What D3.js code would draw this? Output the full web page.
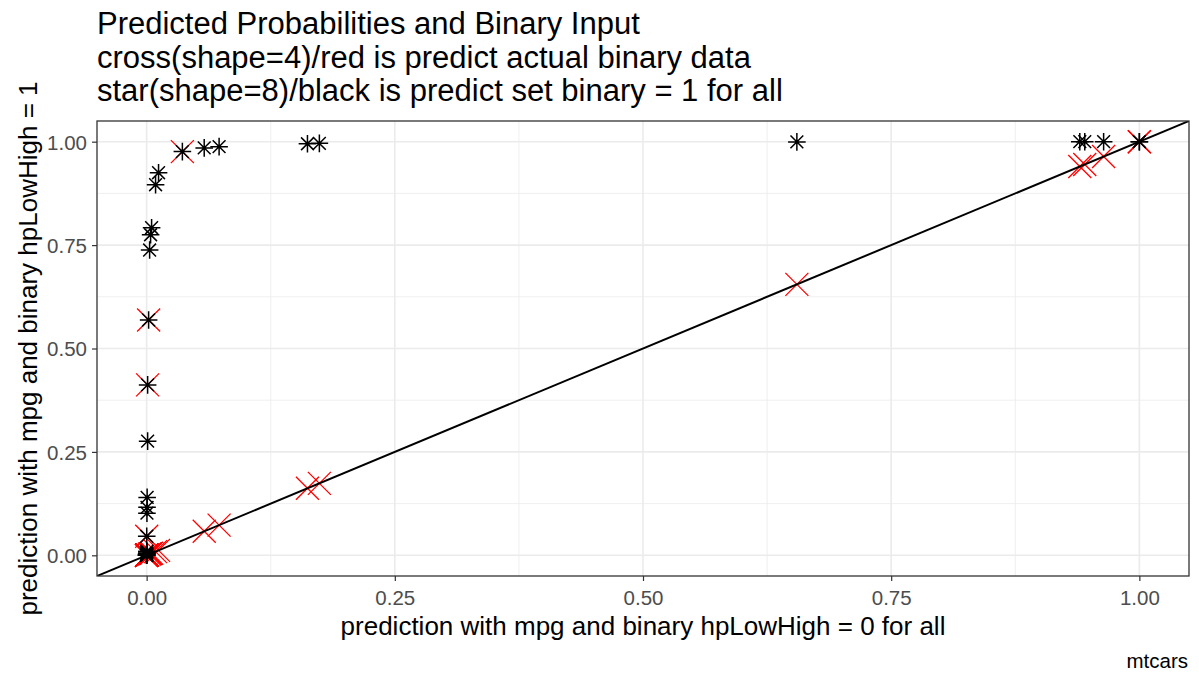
<!DOCTYPE html>
<html><head><meta charset="utf-8">
<script src="https://cdn.jsdelivr.net/npm/d3@7"></script>
<style>body{margin:0;background:#fff;} text{font-family:"Liberation Sans",Arial,Helvetica,sans-serif;}</style>
</head><body>
<svg id="chart" width="1199" height="673"></svg>
<script>
// prediction with hpLowHigh = 0 for all (x)
const pred0 = [0.036,0.058,0.073,0.012,0.009,0.005,0.004,0.003,0.002,0.001,0.001,0.0005,0.0004,0.0003,0.0001,
  0.162,0.174,0.655,0.940,0.945,0.964,1.0,1.0,
  0.0,0.0,0.0001,0.0002,0.0,0.0003,0.0001,0.0,0.0];
// prediction with hpLowHigh = 1 for all (black stars)
const pred1 = [0.976,0.985,0.988,0.925,0.896,0.792,0.775,0.738,0.569,0.412,0.276,0.140,0.116,0.102,0.046,
  0.995,0.996,0.9995,1.0,1.0,1.0,1.0,1.0,
  0.002,0.001,0.005,0.008,0.0,0.01,0.003,0.0,0.0];
// prediction with actual binary data (red crosses)
const predActual = [0.976,0.058,0.073,0.012,0.009,0.005,0.004,0.003,0.569,0.412,0.001,0.0005,0.0004,0.0003,0.046,
  0.162,0.174,0.655,0.940,0.945,0.964,1.0,1.0,
  0.0,0.0,0.0001,0.0002,0.0,0.0003,0.0001,0.0,0.0];
const ticks = [0, 0.25, 0.5, 0.75, 1.0];
const minorTicks = [0.125, 0.375, 0.625, 0.875];
const titleLines = ["Predicted Probabilities and Binary Input",
  "cross(shape=4)/red is predict actual binary data",
  "star(shape=8)/black is predict set binary = 1 for all"];
const xTitle = "prediction with mpg and binary hpLowHigh = 0 for all";
const yTitle = "prediction with mpg and binary hpLowHigh = 1";
const caption = "mtcars";

const svg = d3.select("#chart");
const L = 97, R = 1189, T = 121, B = 576;
const x = d3.scaleLinear().domain([-0.05, 1.05]).range([L, R]);
const y = d3.scaleLinear().domain([-0.05, 1.05]).range([B, T]);

svg.append("defs").append("clipPath").attr("id","pc")
  .append("rect").attr("x",L).attr("y",T).attr("width",R-L).attr("height",B-T);

const g = svg.append("g");
minorTicks.forEach(t=>{
  g.append("line").attr("x1",x(t)).attr("x2",x(t)).attr("y1",T).attr("y2",B).attr("stroke","#EBEBEB").attr("stroke-width",0.8);
  g.append("line").attr("y1",y(t)).attr("y2",y(t)).attr("x1",L).attr("x2",R).attr("stroke","#EBEBEB").attr("stroke-width",0.8);
});
ticks.forEach(t=>{
  g.append("line").attr("x1",x(t)).attr("x2",x(t)).attr("y1",T).attr("y2",B).attr("stroke","#EBEBEB").attr("stroke-width",1.6);
  g.append("line").attr("y1",y(t)).attr("y2",y(t)).attr("x1",L).attr("x2",R).attr("stroke","#EBEBEB").attr("stroke-width",1.6);
});

const data = pred0.map((d,i)=>({x:d, y1:pred1[i], ya:predActual[i]}));
const pts = svg.append("g").attr("clip-path","url(#pc)");
const cs = 11.5;
pts.selectAll("path.cross").data(data).enter().append("path")
  .attr("d", d=>{const cx=x(d.x), cy=y(d.ya);
    return `M${cx-cs},${cy-cs}L${cx+cs},${cy+cs}M${cx-cs},${cy+cs}L${cx+cs},${cy-cs}`;})
  .attr("stroke","#FF0000").attr("stroke-width",1.3).attr("fill","none");
const sp = 8.8, sx = 6.4;
pts.selectAll("path.star").data(data).enter().append("path")
  .attr("d", d=>{const cx=x(d.x), cy=y(d.y1);
    return `M${cx-sp},${cy}L${cx+sp},${cy}M${cx},${cy-sp}L${cx},${cy+sp}M${cx-sx},${cy-sx}L${cx+sx},${cy+sx}M${cx-sx},${cy+sx}L${cx+sx},${cy-sx}`;})
  .attr("stroke","#000").attr("stroke-width",1.5).attr("fill","none");
pts.append("line").attr("x1",x(-0.05)).attr("y1",y(-0.05)).attr("x2",x(1.05)).attr("y2",y(1.05))
  .attr("stroke","#000").attr("stroke-width",2);

svg.append("rect").attr("x",L).attr("y",T).attr("width",R-L).attr("height",B-T)
  .attr("fill","none").attr("stroke","#333333").attr("stroke-width",1.3);

const fmt = d3.format(".2f");
const xAxis = svg.append("g").attr("transform",`translate(0,${B})`)
  .call(d3.axisBottom(x).tickValues(ticks).tickFormat(fmt).tickSize(5).tickPadding(4));
const yAxis = svg.append("g").attr("transform",`translate(${L},0)`)
  .call(d3.axisLeft(y).tickValues(ticks).tickFormat(fmt).tickSize(5).tickPadding(5));
[xAxis,yAxis].forEach(a=>{
  a.select(".domain").remove();
  a.selectAll(".tick line").attr("stroke","#333333").attr("stroke-width",1.2);
  a.selectAll(".tick text").attr("fill","#4D4D4D").style("font-size","20.5px")
    .style("font-family","'Liberation Sans',Arial,sans-serif");
});
xAxis.selectAll(".tick text").attr("dy","0.98em");
yAxis.selectAll(".tick text").attr("dy","0.36em");

titleLines.forEach((t,i)=>{
  svg.append("text").attr("x",L).attr("y",34+i*33.5).text(t)
    .style("font-size","31px").attr("fill","#000");
});
svg.append("text").attr("x",(L+R)/2).attr("y",635).attr("text-anchor","middle")
  .text(xTitle).style("font-size","26px").attr("fill","#000");
svg.append("text").attr("transform",`translate(37,${(T+B)/2}) rotate(-90)`)
  .attr("text-anchor","middle").text(yTitle).style("font-size","26px").attr("fill","#000");
svg.append("text").attr("x",1188).attr("y",668).attr("text-anchor","end")
  .text(caption).style("font-size","20.5px").attr("fill","#000");
</script>
</body></html>
